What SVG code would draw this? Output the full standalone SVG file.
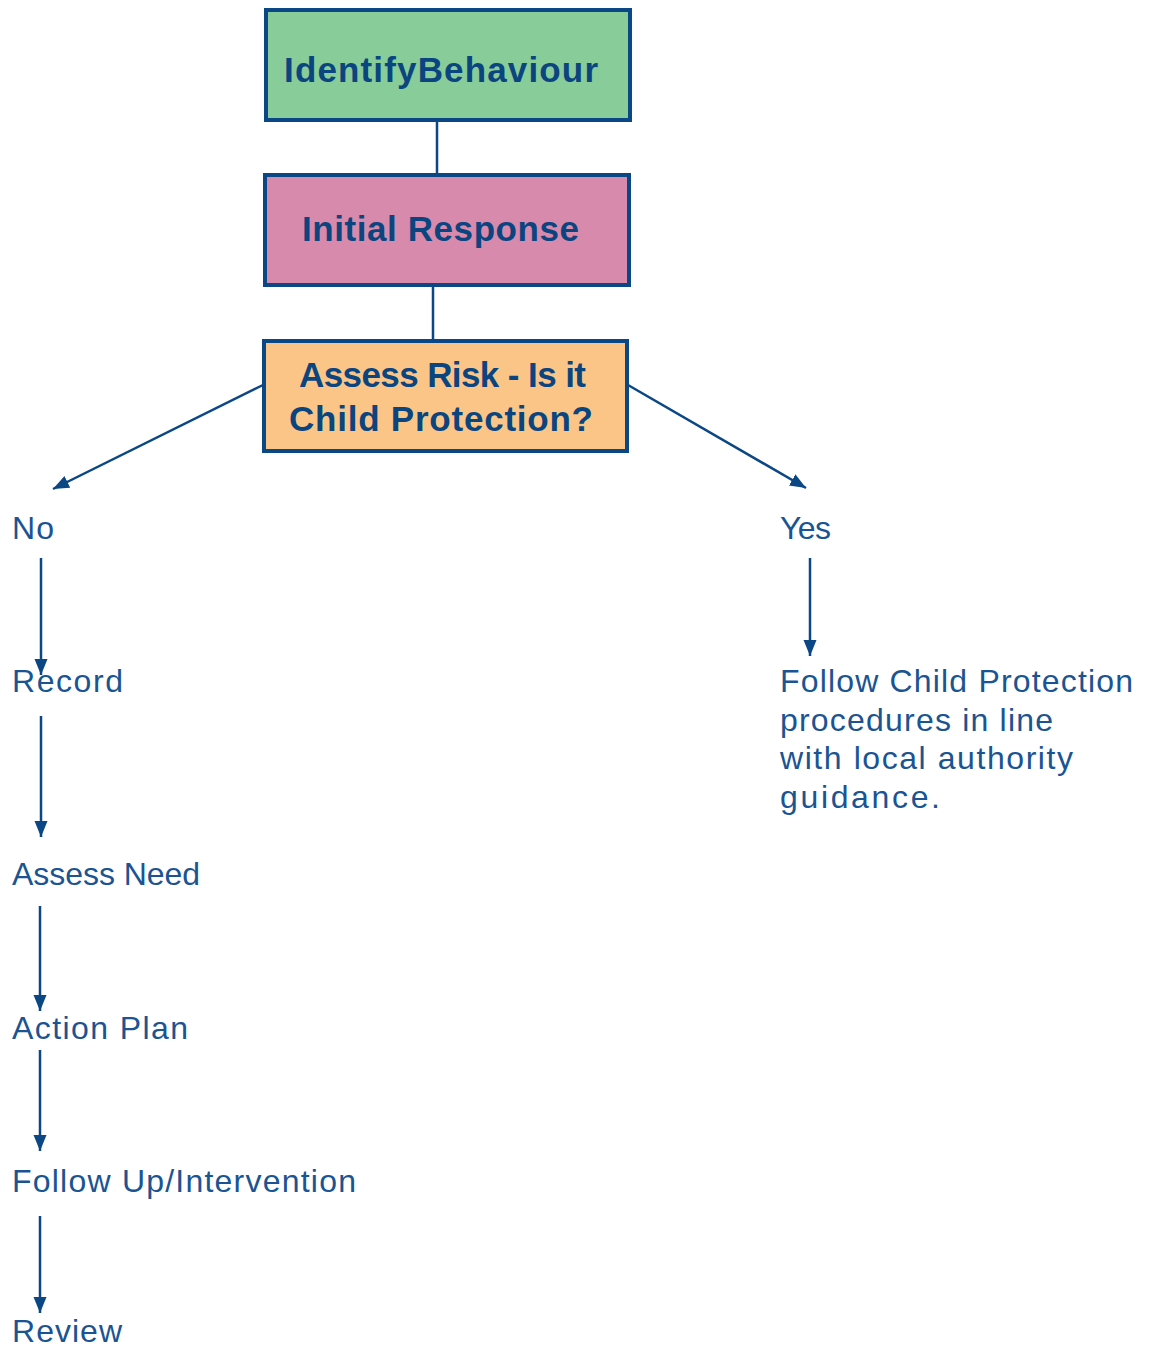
<svg xmlns="http://www.w3.org/2000/svg" width="1151" height="1349" viewBox="0 0 1151 1349">
<style>
.box{stroke:#0A4784;stroke-width:4}
.bt{font-family:"Liberation Sans",Arial,sans-serif;font-weight:bold;font-size:35px;fill:#0B4580}
.t{font-family:"Liberation Sans",Arial,sans-serif;font-size:32px;fill:#1A5492}
.c{stroke:#0A4784;stroke-width:2.5;fill:none}
</style>
<defs>
<marker id="ah" markerUnits="userSpaceOnUse" markerWidth="18" markerHeight="14" refX="16" refY="6.5" orient="auto">
<path d="M0,0 L16,6.5 L0,13 Z" fill="#0A4784"/>
</marker>
</defs>
<rect width="1151" height="1349" fill="#FFFFFF"/>
<g id="connectors">
<line class="c" x1="437" y1="120" x2="437" y2="178"/>
<line class="c" x1="433" y1="285" x2="433" y2="341"/>
<line class="c" x1="263" y1="385" x2="53" y2="489" marker-end="url(#ah)"/>
<line class="c" x1="628" y1="385" x2="806" y2="488" marker-end="url(#ah)"/>
<line class="c" x1="41" y1="558" x2="41" y2="675" marker-end="url(#ah)"/>
<line class="c" x1="41" y1="716" x2="41" y2="837" marker-end="url(#ah)"/>
<line class="c" x1="40" y1="906" x2="40" y2="1011" marker-end="url(#ah)"/>
<line class="c" x1="40" y1="1050" x2="40" y2="1151" marker-end="url(#ah)"/>
<line class="c" x1="40" y1="1216" x2="40" y2="1313" marker-end="url(#ah)"/>
<line class="c" x1="810" y1="558" x2="810" y2="656" marker-end="url(#ah)"/>
</g>
<g id="identify">
<rect class="box" x="266" y="10" width="364" height="110" fill="#88CC99"/>
<text class="bt" x="284" y="82" textLength="314">IdentifyBehaviour</text>
</g>
<g id="initial">
<rect class="box" x="265" y="175" width="364" height="110" fill="#D88AAD"/>
<text class="bt" x="302" y="241" textLength="277">Initial Response</text>
</g>
<g id="assess">
<rect class="box" x="264" y="341" width="363" height="110" fill="#FBC588"/>
<text class="bt" x="299" y="387" textLength="287">Assess Risk - Is it</text>
<text class="bt" x="289" y="431" textLength="304">Child Protection?</text>
</g>
<g id="no"><text class="t" x="12" y="539" textLength="42">No</text></g>
<g id="record"><text class="t" x="12" y="692" textLength="111">Record</text></g>
<g id="assessneed"><text class="t" x="12" y="885" textLength="188">Assess Need</text></g>
<g id="actionplan"><text class="t" x="12" y="1039" textLength="176">Action Plan</text></g>
<g id="followup"><text class="t" x="12" y="1192" textLength="344">Follow Up/Intervention</text></g>
<g id="review"><text class="t" x="12" y="1342" textLength="110">Review</text></g>
<g id="yes"><text class="t" x="780" y="539" textLength="51">Yes</text></g>
<g id="followcp">
<text class="t" x="780" y="692" textLength="353">Follow Child Protection</text>
<text class="t" x="780" y="731" textLength="273">procedures in line</text>
<text class="t" x="780" y="769" textLength="293">with local authority</text>
<text class="t" x="780" y="808" textLength="160">guidance.</text>
</g>
</svg>
